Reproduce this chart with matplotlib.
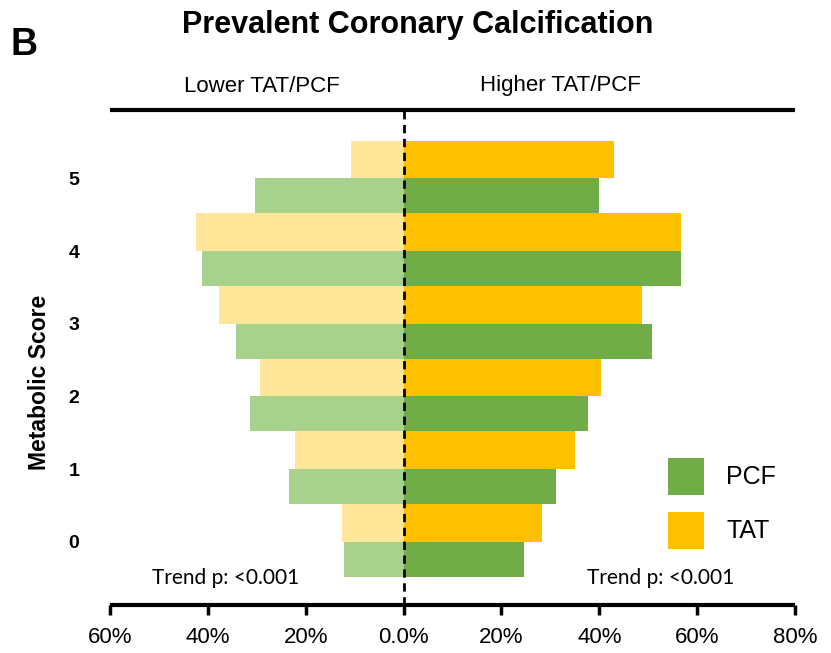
import matplotlib
matplotlib.use("Agg")
import matplotlib.pyplot as plt
from matplotlib.patches import Patch
from matplotlib import font_manager

# ---- data ----
scores = [0, 1, 2, 3, 4, 5]
score_labels = ["0", "1", "2", "3", "4", "5"]
tat_lower = [12.5, 22.1, 29.4, 37.7, 42.4, 10.8]
tat_higher = [28.3, 35.0, 40.3, 48.7, 56.8, 43.0]
pcf_lower = [12.1, 23.5, 31.4, 34.3, 41.2, 30.3]
pcf_higher = [24.7, 31.2, 37.7, 50.8, 56.6, 40.0]
xtick_vals = [-60, -40, -20, 0, 20, 40, 60, 80]
xtick_labels = ["60%", "40%", "20%", "0.0%", "20%", "40%", "60%", "80%"]

names = {f.name for f in font_manager.fontManager.ttflist}
narrow = "Liberation Sans Narrow" if "Liberation Sans Narrow" in names else "Liberation Sans"
sans = "Liberation Sans"
calib = "Lato"

TAT_D, TAT_L = "#FFC000", "#FFE699"
PCF_D, PCF_L = "#70AD47", "#A9D18E"

W, H = 831, 653
fig = plt.figure(figsize=(W / 100, H / 100), dpi=100)
ax = fig.add_axes([110 / W, 1 - 605 / H, (795 - 110) / W, (605 - 110) / H])

h_tat, h_pcf = 0.52, 0.48
neg = lambda v: [-x for x in v]
ax.barh(scores, neg(tat_lower), height=h_tat, align="edge", color=TAT_L, zorder=2)
ax.barh(scores, tat_higher, height=h_tat, align="edge", color=TAT_D, zorder=2)
ax.barh(scores, neg(pcf_lower), height=-h_pcf, align="edge", color=PCF_L, zorder=2)
ax.barh(scores, pcf_higher, height=-h_pcf, align="edge", color=PCF_D, zorder=2)

ax.axvline(0, color="black", lw=2, ls=(0, (3, 2)), zorder=5)

ax.set_xlim(-60, 80)
ax.set_ylim(-0.87, 5.94)
ax.set_xticks(xtick_vals)
ax.set_xticklabels(xtick_labels, fontfamily=narrow, fontsize=16)
ax.set_yticks(scores)
ax.set_yticklabels(score_labels, fontfamily=sans, fontweight="bold", fontsize=14)
ax.tick_params(axis="y", length=0, pad=22)
ax.tick_params(axis="x", length=7, width=2.5, direction="out", pad=9)
for s in ["left", "right"]:
    ax.spines[s].set_visible(False)
for s in ["top", "bottom"]:
    ax.spines[s].set_linewidth(3)
    ax.spines[s].set_capstyle("butt")

ax.set_ylabel("Metabolic Score", fontfamily=sans, fontweight="bold", fontsize=16.5)
ax.yaxis.set_label_coords((51 - 110) / 685, (605 - 382.5) / 495)

# texts
fig.text(418 / W, 1 - 33 / H, "Prevalent Coronary Calcification", ha="center", va="baseline",
         fontfamily=narrow, fontweight="bold", fontsize=22)
fig.text(24 / W, 1 - 55 / H, "B", ha="center", va="baseline", fontfamily=narrow,
         fontweight="bold", fontsize=27)
fig.text(262 / W, 1 - 86 / H, "Lower TAT/PCF", ha="center", va="center", fontfamily=narrow, fontsize=16)
fig.text(560 / W, 1 - 86 / H, "Higher TAT/PCF", ha="center", va="center", fontfamily=narrow, fontsize=16)
fig.text(226 / W, 1 - 578 / H, "Trend p: <0.001", ha="center", va="center", fontfamily=calib, fontsize=15)
fig.text(661 / W, 1 - 578 / H, "Trend p: <0.001", ha="center", va="center", fontfamily=calib, fontsize=15)

handles = [Patch(facecolor=PCF_D, label="PCF"), Patch(facecolor=TAT_D, label="TAT")]
leg = ax.legend(handles=handles, loc="upper left", bbox_to_anchor=(668 / W, 1 - 458 / H),
                bbox_transform=fig.transFigure, frameon=False, borderpad=0, borderaxespad=0,
                handlelength=1.44, handleheight=1.9, handletextpad=0.9, labelspacing=0.68,
                prop={"family": sans, "size": 18})

fig.savefig("out.png", dpi=100)
